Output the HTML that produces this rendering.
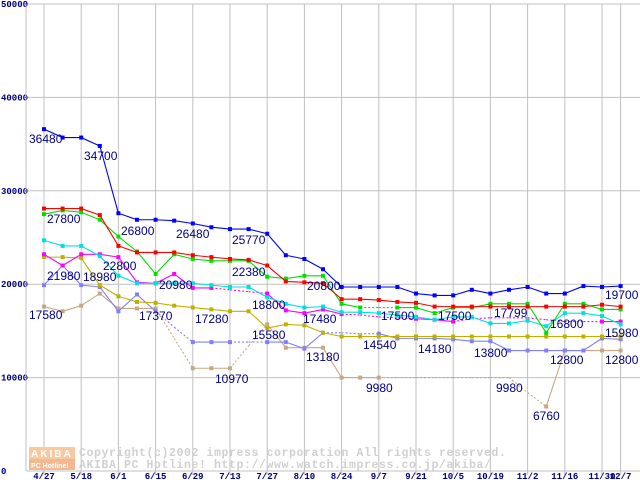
<!DOCTYPE html>
<html><head><meta charset="utf-8"><style>
body{margin:0;background:#fff;}
svg{display:block;}
.lbl{font-family:"Liberation Sans",sans-serif;font-size:12px;fill:#000080;}
.ax{font-family:"Liberation Mono",monospace;font-size:9px;font-weight:bold;fill:#000080;}
.wm{font-family:"Liberation Mono",monospace;font-size:11.5px;font-weight:bold;fill:#d0d0d0;letter-spacing:0.6px;}
</style></head><body>
<svg id="chart" width="640" height="480" viewBox="0 0 640 480" xmlns="http://www.w3.org/2000/svg">
<g id="grid"></g>
<g id="wmark">
<rect x="29" y="447" width="46" height="12" fill="#f8c8a0"/>
<rect x="29" y="459" width="46" height="11" fill="#f4b890"/>
<text x="31" y="457" style="font-family:'Liberation Sans',sans-serif;font-size:10px;font-weight:bold;fill:#fff;letter-spacing:2px">AKIBA</text>
<text x="31" y="468" style="font-family:'Liberation Sans',sans-serif;font-size:7px;font-weight:bold;fill:#fff">PC Hotline!</text>
<text class="wm" x="79" y="456">Copyright(c)2002 impress corporation All rights reserved.</text>
<text class="wm" x="79" y="468">AKIBA PC Hotline!  http://www.watch.impress.co.jp/akiba/</text>
</g>
<g id="series"></g>
<g id="labels"></g>
</svg>
<script>
const xLabels=["4/27","5/18","6/1","6/15","6/29","7/13","7/27","8/10","8/24","9/7","9/21","10/5","10/19","11/2","11/16","11/30","12/7"];
const xLabelIdx=[0,2,4,6,8,10,12,14,16,18,20,22,24,26,28,30,31];
const yTicks=[0,10000,20000,30000,40000,50000];
const blue=[36600,35700,35700,34800,27600,26900,26900,26800,26500,26100,25900,25900,25400,23100,22700,21600,19700,19700,19700,19700,19000,18800,18800,19400,19000,19400,19700,19000,19000,19800,19700,19800];
const red=[28100,28100,28100,27400,24100,23400,23400,23400,23100,22900,22700,22600,22000,20300,20200,20100,18400,18400,18300,18100,18000,17600,17600,17600,17600,17600,17600,17600,17600,17600,17800,17600];
const green=[27500,27900,27700,26900,25100,23500,21100,23200,22700,22500,22500,22500,20800,20600,20900,20900,17900,17500,17500,17500,17500,16900,17500,17500,17900,17900,17900,14800,17900,17900,17300,17300];
const cyan=[24700,24100,24100,23000,20900,20100,20100,20100,20100,19900,19700,19700,18600,17900,17500,17600,17000,17000,16900,16700,16500,16200,16500,16500,15800,15800,16100,15500,16900,16900,16600,15700];
const magenta=[23200,22000,23200,23200,22900,20200,20100,21100,19600,19600,19400,19200,19000,17200,16900,17300,16800,16700,16500,16400,16300,16200,16000,16300,16400,16400,16400,16200,16000,16000,16000,16000];
const olive=[22900,22900,22800,19900,18700,18100,18000,17700,17500,17300,17100,17100,15300,15700,15600,14800,14400,14400,14400,14400,14400,14400,14400,14400,14400,14400,14400,14400,14400,14400,14400,14400];
const lavender=[19900,22000,19900,19700,17100,18900,17100,15400,13800,13800,13800,13800,13800,13800,13100,14800,14800,14700,14700,14200,14200,14200,14100,13900,13900,12900,12900,12900,12900,12900,14200,14100];
const tan=[17600,17100,17700,19000,17400,17400,17400,14200,11000,11000,11000,13400,15700,13200,13200,13200,10000,10000,10000,10000,10000,10000,10000,10000,10000,10000,8400,6900,12900,12900,12900,12900];
const seriesList=[
 {name:"tan",color:"#c8a882",data:tan,dashed:[6,7,10,11,18,19,20,21,22,23,24,25,26]},
 {name:"lavender",color:"#8080ff",data:lavender,dashed:[6,7,10,11,15,16,17]},
 {name:"olive",color:"#c0b000",data:olive,dashed:[]},
 {name:"magenta",color:"#ff00ff",data:magenta,dashed:[9,10,11,16,17,18,19,22,23,24,25,26,27,28,29]},
 {name:"cyan",color:"#00e0e0",data:cyan,dashed:[]},
 {name:"green",color:"#00e000",data:green,dashed:[17,18]},
 {name:"red",color:"#ff0000",data:red,dashed:[]},
 {name:"blue",color:"#0000ff",data:blue,dashed:[]}
];
const valueLabels=[[29,143,"36480"],[84,160,"34700"],[47,223,"27800"],[121,235,"26800"],[176,238,"26480"],[232,244,"25770"],[103,270,"22800"],[232,276,"22380"],[47,280,"21980"],[159,289,"20980"],[307,290,"20800"],[605,299,"19700"],[83,281,"18980"],[29,319,"17580"],[139,320,"17370"],[195,323,"17280"],[252,309,"18800"],[252,339,"15580"],[303,323,"17480"],[306,361,"13180"],[215,383,"10970"],[381,320,"17500"],[438,320,"17500"],[494,317,"17799"],[550,328,"16800"],[605,337,"15980"],[363,349,"14540"],[418,353,"14180"],[474,357,"13800"],[550,364,"12800"],[605,364,"12800"],[366,392,"9980"],[496,392,"9980"],[533,420,"6760"]];
const NS="http://www.w3.org/2000/svg";
function xs(i){return 44+i*18.6;}
function ys(v){return 471-v*467/50000;}
function mk(tag,attrs,parent){const e=document.createElementNS(NS,tag);for(const k in attrs)e.setAttribute(k,attrs[k]);parent.appendChild(e);return e;}
const grid=document.getElementById('grid');
yTicks.forEach(t=>{
 const l=mk('line',{x1:26,x2:640,y1:ys(t),y2:ys(t),stroke:'#c0c0c0','stroke-width':1},grid);
 
 
 const tx=mk('text',{x:1,y:ys(t)+3,'class':'ax'},grid);tx.textContent=String(t);
 
 
});
const ya=mk('line',{x1:26,x2:26,y1:4,y2:471,stroke:'#c0c0c0'},grid);


xLabels.forEach((s,k)=>{
 const x=xs(xLabelIdx[k]);
 const l=mk('line',{x1:x,x2:x,y1:4,y2:475,stroke:'#c0c0c0'},grid);
 
 
 const tx=mk('text',{x:x,y:479,'text-anchor':'middle','class':'ax'},grid);tx.textContent=s;
 
 
});
const sg=document.getElementById('series');
seriesList.forEach(s=>{
 const g=mk('g',{},sg);
 
 
 for(let i=0;i<s.data.length-1;i++){
  const dash=s.dashed.indexOf(i)>=0;
  const l=mk('line',{x1:xs(i),y1:ys(s.data[i]),x2:xs(i+1),y2:ys(s.data[i+1]),stroke:s.color,'stroke-width':1.1},g);
  if(dash)l.setAttribute('stroke-dasharray','2,2');
  
  
 }
 s.data.forEach((v,i)=>{
  const inDash=s.dashed.indexOf(i)>=0&&s.dashed.indexOf(i-1)>=0;
  if(inDash)return;
  const r=mk('rect',{x:xs(i)-2,y:ys(v)-2,width:4,height:4,fill:s.color},g);
  
  
 });
});
const lg=document.getElementById('labels');
valueLabels.forEach(a=>{
 const t=mk('text',{x:a[0],y:a[1],'class':'lbl'},lg);t.textContent=a[2];
 
 
});
</script>
</body></html>
